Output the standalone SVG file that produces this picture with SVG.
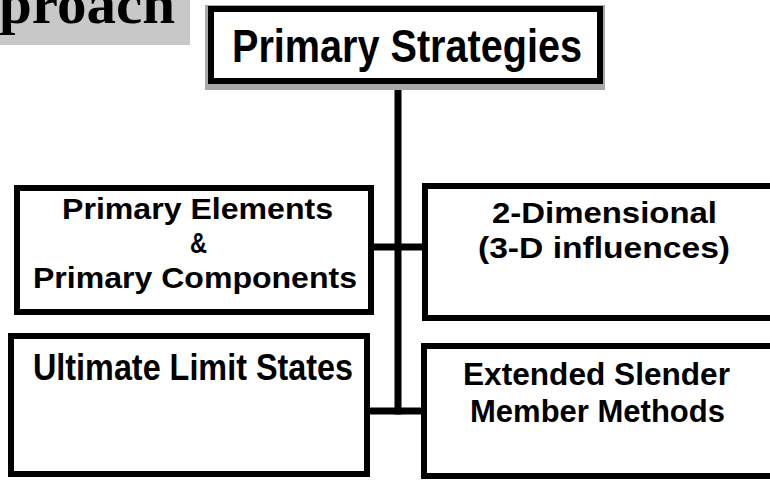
<svg xmlns="http://www.w3.org/2000/svg" width="770" height="485" viewBox="0 0 770 485">
  <style>
    .box { fill: #ffffff; stroke: #000000; stroke-width: 6; }
    .lbl { font-family: "Liberation Sans", Arial, sans-serif; font-weight: bold; fill: #000000; }
    .wire { stroke: #000000; stroke-width: 7; fill: none; stroke-linecap: square; }
    .halo { fill: #a8a8a8; }
  </style>

  <rect width="770" height="485" fill="#ffffff"/>

  <!-- title fragment with halftone backing -->
  <g id="title">
    <rect x="0" y="0" width="190" height="45" fill="#c8c8c8"/>
    <text x="-1" y="23" font-family="'Liberation Serif', 'Times New Roman', serif" font-weight="bold" font-size="58" fill="#000000" textLength="176" lengthAdjust="spacingAndGlyphs">proach</text>
  </g>

  <!-- connectors -->
  <g id="connectors">
    <line class="wire" x1="398" y1="90" x2="398" y2="411"/>
    <line class="wire" x1="371" y1="247" x2="425" y2="247"/>
    <line class="wire" x1="367" y1="411" x2="424" y2="411"/>
  </g>

  <!-- root node -->
  <g id="primary-strategies">
    <rect class="halo" x="205" y="5" width="400" height="85"/>
    <rect x="211" y="9" width="389" height="72" fill="#ffffff" stroke="#000000" stroke-width="6"/>
    <text class="lbl" x="232" y="62" font-size="47" textLength="350" lengthAdjust="spacingAndGlyphs">Primary Strategies</text>
  </g>

  <!-- upper left -->
  <g id="primary-elements">
    <rect class="box" x="17" y="188" width="354" height="124"/>
    <text class="lbl" x="62" y="219" font-size="30" textLength="271" lengthAdjust="spacingAndGlyphs">Primary  Elements</text>
    <text class="lbl" x="190" y="253" font-size="30" textLength="17" lengthAdjust="spacingAndGlyphs">&amp;</text>
    <text class="lbl" x="33" y="288" font-size="30" textLength="324" lengthAdjust="spacingAndGlyphs">Primary  Components</text>
  </g>

  <!-- upper right -->
  <g id="two-dimensional">
    <rect class="box" x="425" y="186" width="360" height="132"/>
    <text class="lbl" x="492" y="223" font-size="30" textLength="225" lengthAdjust="spacingAndGlyphs">2-Dimensional</text>
    <text class="lbl" x="478" y="258" font-size="30" textLength="252" lengthAdjust="spacingAndGlyphs">(3-D  influences)</text>
  </g>

  <!-- lower left -->
  <g id="ultimate-limit-states">
    <rect class="box" x="11" y="336" width="356" height="138"/>
    <text class="lbl" x="33" y="380" font-size="36" textLength="320" lengthAdjust="spacingAndGlyphs">Ultimate  Limit  States</text>
  </g>

  <!-- lower right -->
  <g id="extended-slender">
    <rect class="box" x="424" y="346" width="360" height="130"/>
    <text class="lbl" x="463" y="385" font-size="31" textLength="267" lengthAdjust="spacingAndGlyphs">Extended  Slender</text>
    <text class="lbl" x="470" y="422" font-size="31" textLength="255" lengthAdjust="spacingAndGlyphs">Member  Methods</text>
  </g>
</svg>
